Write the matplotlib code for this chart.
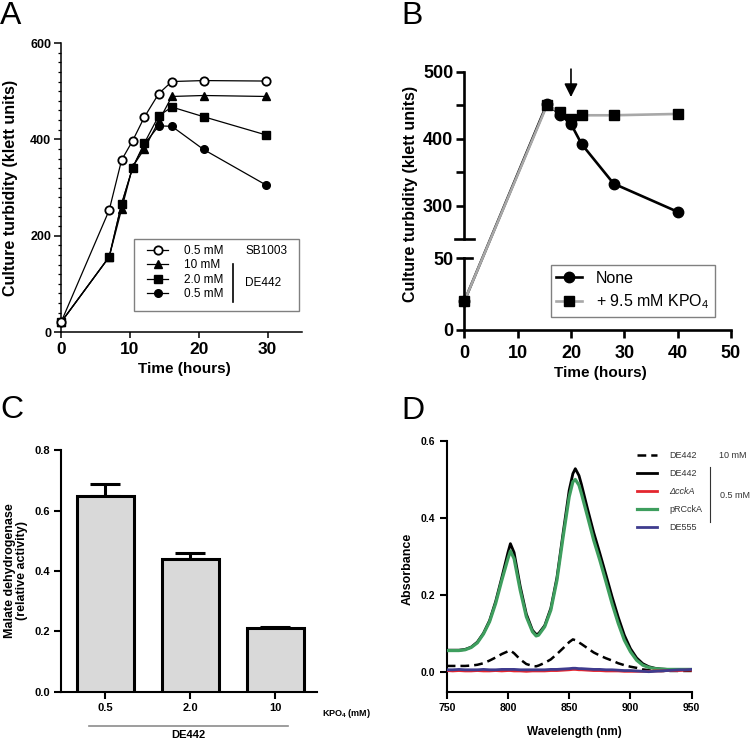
import matplotlib
matplotlib.use('Agg')
import matplotlib.pyplot as plt
from matplotlib.lines import Line2D
from matplotlib.patches import Rectangle
from matplotlib.ticker import MultipleLocator

plt.rcParams['font.family'] = ['Liberation Sans', 'DejaVu Sans']
plt.rcParams['mathtext.fontset'] = 'custom'
plt.rcParams['mathtext.rm'] = 'Liberation Sans'
plt.rcParams['mathtext.it'] = 'Liberation Sans:italic'
plt.rcParams['mathtext.bf'] = 'Liberation Sans:bold'

# ---- panel A : growth curves
a_time = [0, 7, 8.8, 10.4, 12.1, 14.2, 16.1, 20.7, 29.8]
a_sb1003 = [20, 253, 357, 397, 446, 495, 520, 522, 521]
a_10mM = [20, 156, 255, 343, 380, 438, 489, 491, 489]
a_2mM = [20, 156, 266, 341, 392, 449, 467, 447, 409]
a_05mM = [20, 156, 266, 341, 390, 428, 427, 379, 305]

# ---- panel B : KPO4 addition
b_time = [0, 15.5, 18, 20, 22, 28, 40]
b_none = [20, 452, 436, 422, 392, 333, 291]
b_kpo4 = [20, 450, 440, 430, 435, 435, 437]
b_arrow_t = 20

# ---- panel C : malate dehydrogenase
c_labels = ['0.5', '2.0', '10']
c_values = [0.649, 0.440, 0.211]
c_errors = [0.038, 0.021, 0.003]

# ---- panel D : absorbance spectra
d_wl = [750, 755, 760, 765, 770, 775, 780, 785, 790, 795, 800, 802, 805, 810, 815,
        820, 823, 825, 830, 835, 840, 845, 850, 853, 855, 858, 860, 865, 870, 875,
        880, 885, 890, 895, 900, 905, 910, 915, 920, 925, 930, 935, 940, 945, 950]
d_de442_10 = [0.015, 0.015, 0.015, 0.015, 0.016, 0.018, 0.022, 0.029, 0.037, 0.046,
              0.053, 0.055, 0.048, 0.032, 0.020, 0.015, 0.014, 0.016, 0.023, 0.032,
              0.046, 0.061, 0.077, 0.084, 0.082, 0.076, 0.072, 0.061, 0.050, 0.042,
              0.035, 0.029, 0.022, 0.017, 0.013, 0.010, 0.006, 0.004, 0.003, 0.002,
              0.002, 0.002, 0.002, 0.002, 0.002]
d_de442 = [0.056, 0.056, 0.056, 0.058, 0.064, 0.077, 0.100, 0.133, 0.183, 0.245,
           0.310, 0.333, 0.310, 0.222, 0.150, 0.108, 0.097, 0.099, 0.120, 0.165,
           0.245, 0.360, 0.472, 0.515, 0.528, 0.510, 0.487, 0.423, 0.362, 0.308,
           0.252, 0.195, 0.142, 0.095, 0.060, 0.036, 0.021, 0.013, 0.009, 0.007,
           0.006, 0.006, 0.006, 0.006, 0.006]
d_prcckA = [0.055, 0.055, 0.055, 0.057, 0.063, 0.075, 0.098, 0.130, 0.178, 0.238,
            0.294, 0.314, 0.294, 0.212, 0.143, 0.104, 0.093, 0.095, 0.117, 0.160,
            0.238, 0.350, 0.455, 0.494, 0.500, 0.485, 0.463, 0.403, 0.342, 0.290,
            0.234, 0.177, 0.126, 0.082, 0.052, 0.030, 0.017, 0.011, 0.008, 0.007,
            0.006, 0.006, 0.006, 0.006, 0.006]
d_dcckA = [0.003, 0.002, 0.003, 0.002, 0.002, 0.003, 0.002, 0.002, 0.003, 0.002,
           0.003, 0.003, 0.002, 0.002, 0.001, 0.002, 0.002, 0.002, 0.002, 0.003,
           0.003, 0.004, 0.005, 0.006, 0.006, 0.005, 0.005, 0.004, 0.003, 0.003,
           0.002, 0.002, 0.002, 0.001, 0.001, 0.001, 0.001, 0.001, 0.002, 0.002,
           0.003, 0.003, 0.003, 0.004, 0.004]
d_de555 = [0.005, 0.005, 0.006, 0.005, 0.005, 0.005, 0.006, 0.005, 0.005, 0.006,
           0.006, 0.006, 0.006, 0.005, 0.005, 0.005, 0.005, 0.005, 0.005, 0.006,
           0.006, 0.007, 0.008, 0.009, 0.009, 0.008, 0.008, 0.007, 0.006, 0.006,
           0.005, 0.005, 0.004, 0.003, 0.003, 0.002, 0.001, 0.000, 0.001, 0.002,
           0.003, 0.004, 0.005, 0.005, 0.006]

W, H = 750.0, 740.0
fig = plt.figure(figsize=(7.5, 7.4), dpi=100)


def px_axes(x0, x1, ytop, ybot):
    return fig.add_axes([x0 / W, 1 - ybot / H, (x1 - x0) / W, (ybot - ytop) / H])


def fx(x):
    return x / W


def fy(y):
    return 1 - y / H


def strip(ax, lw):
    for s in ['top', 'right']:
        ax.spines[s].set_visible(False)
    for s in ['left', 'bottom']:
        ax.spines[s].set_linewidth(lw)


# ================= A =================
axA = px_axes(61, 302, 43, 332)
strip(axA, 1.1)
axA.plot(a_time, a_sb1003, '-o', color='k', mfc='white', mec='k', mew=1.3, ms=6, lw=0.9, clip_on=False, zorder=5)
axA.plot(a_time, a_10mM, '-^', color='k', ms=6, lw=0.9, clip_on=False, zorder=4)
axA.plot(a_time, a_2mM, '-s', color='k', ms=5.5, lw=0.9, clip_on=False, zorder=4)
axA.plot(a_time, a_05mM, '-o', color='k', ms=5.5, lw=0.9, clip_on=False, zorder=4)
axA.set_xlim(0, 35)
axA.set_ylim(0, 600)
axA.set_xticks([0, 10, 20, 30])
axA.set_yticks([0, 200, 400, 600])
axA.yaxis.set_minor_locator(MultipleLocator(20))
axA.tick_params(axis='y', which='major', length=5, width=1.1, labelsize=9, pad=2)
axA.tick_params(axis='y', which='minor', length=2.5, width=0.9)
axA.tick_params(axis='x', which='major', length=4, width=1.1, labelsize=12.5, pad=3)
for t in axA.get_xticklabels() + axA.get_yticklabels():
    t.set_fontweight('bold')
axA.set_ylabel('Culture turbidity (klett units)', fontsize=11.5, fontweight='bold')
axA.yaxis.set_label_coords(-0.18, 0.5)
axA.set_xlabel('Time (hours)', fontsize=11, fontweight='bold')
axA.xaxis.set_label_coords(0.51, -0.105)

hA = [Line2D([], [], color='k', marker='o', mfc='white', mew=1.3, ms=6, lw=0.9),
      Line2D([], [], color='k', marker='^', ms=6, lw=0.9),
      Line2D([], [], color='k', marker='s', ms=5.5, lw=0.9),
      Line2D([], [], color='k', marker='o', ms=5.5, lw=0.9)]
legA = axA.legend(hA, ['0.5 mM', '10 mM', '2.0 mM', '0.5 mM'], loc='upper left',
                  bbox_to_anchor=(fx(147), fy(245)), bbox_transform=fig.transFigure,
                  frameon=False, fontsize=8.5, borderpad=0, borderaxespad=0,
                  labelspacing=0.2, handlelength=1.8, handletextpad=1.3)
fig.add_artist(Rectangle((fx(134), fy(311)), fx(165), 72 / H, transform=fig.transFigure,
                         fill=False, edgecolor='#808080', lw=1))
fig.text(fx(246), fy(251), 'SB1003', fontsize=8.5, va='center', ha='left')
fig.text(fx(245), fy(283), 'DE442', fontsize=8.5, va='center', ha='left')
fig.add_artist(Line2D([fx(232.7), fx(232.7)], [fy(264), fy(302)], color='k', lw=1.2, transform=fig.transFigure))

# ================= B (broken axis) =================
bx0, bx1 = 464.3, 731
axBt = px_axes(bx0, bx1, 71.7, 239.3)
axBb = px_axes(bx0, bx1, 258.3, 330)
grey = '#a8a8a8'
for ax in (axBt, axBb):
    ax.patch.set_visible(False)
    ax.spines['top'].set_visible(False)
    ax.spines['right'].set_visible(False)
    ax.spines['left'].set_linewidth(1.9)
    ax.spines['bottom'].set_linewidth(1.9)
    ax.set_xlim(0, 50)
# upper part: points after the first sample
axBt.plot(b_time[1:], b_none[1:], '-o', color='k', ms=7.5, lw=1.9, zorder=3)
axBt.plot(b_time[1:], b_kpo4[1:], '-s', color=grey, mfc='k', mec='k', ms=7, lw=1.9, zorder=4)
# lower part: the starting sample
axBb.plot(b_time[:1], b_none[:1], 'o', color='k', ms=7.5, zorder=3, clip_on=False)
axBb.plot(b_time[:1], b_kpo4[:1], 's', color='k', ms=7, zorder=4, clip_on=False)
axBt.spines['bottom'].set_visible(False)
axBt.set_ylim(250, 500)
axBt.set_xticks([])
axBt.set_yticks([300, 400, 500])
axBt.set_yticks([350, 450], minor=True)
axBt.tick_params(axis='y', which='both', length=6, width=1.9, labelsize=13, pad=2)
axBb.set_ylim(0, 50)
axBb.set_yticks([0, 50])
axBb.set_xticks([0, 10, 20, 30, 40, 50])
axBb.tick_params(axis='y', length=6, width=1.9, labelsize=13, pad=2)
axBb.tick_params(axis='x', length=6, width=1.9, labelsize=13, pad=5)
for t in axBt.get_yticklabels() + axBb.get_yticklabels() + axBb.get_xticklabels():
    t.set_fontweight('bold')
# break marks across the axis
axBt.plot([-0.035, 0.035], [250, 250], color='k', lw=1.9, transform=axBt.get_yaxis_transform(), clip_on=False)
axBb.plot([0, 0.03], [50, 50], color='k', lw=1.9, transform=axBb.get_yaxis_transform(), clip_on=False)
# first segment crosses the gap between the two parts
inv = fig.transFigure.inverted()
for vals, col, z in [(b_none, 'k', -2), (b_kpo4, grey, -1)]:
    p0 = inv.transform(axBb.transData.transform((b_time[0], vals[0])))
    p1 = inv.transform(axBt.transData.transform((b_time[1], vals[1])))
    fig.add_artist(Line2D([p0[0], p1[0]], [p0[1], p1[1]], color=col, lw=1.9,
                          transform=fig.transFigure, zorder=z))
axBt.annotate('', xy=(b_arrow_t, 458), xytext=(b_arrow_t, 508),
              arrowprops=dict(arrowstyle='-|>', color='k', lw=1.2, mutation_scale=20),
              annotation_clip=False)
fig.text(fx(410), fy(194), 'Culture turbidity (klett units)', rotation=90, fontsize=11.5,
         fontweight='bold', ha='center', va='center')
axBb.set_xlabel('Time (hours)', fontsize=11, fontweight='bold')
axBb.xaxis.set_label_coords(0.51, -0.5)
hB = [Line2D([], [], color='k', marker='o', ms=7.5, lw=1.9),
      Line2D([], [], color=grey, marker='s', mfc='k', mec='k', ms=7, lw=1.9)]
legB = axBb.legend(hB, ['None', '+ 9.5 mM KPO$_4$'], loc='upper left',
                   bbox_to_anchor=(fx(550.7), fy(265)), bbox_transform=fig.transFigure,
                   fontsize=11.5, fancybox=False, edgecolor='#808080', framealpha=1,
                   borderpad=0.35, borderaxespad=0, labelspacing=0.45,
                   handlelength=1.6, handletextpad=0.9)
legB.get_frame().set_linewidth(1)

# ================= C =================
axC = px_axes(61, 317, 450.3, 691.7)
strip(axC, 1.5)
cx = list(range(len(c_values)))
axC.errorbar(cx, c_values, yerr=[[0] * len(c_errors), c_errors], fmt='none', ecolor='k',
             elinewidth=2.2, capsize=10.8, capthick=2.2, zorder=2)
axC.bar(cx, c_values, width=0.67, color='#d9d9d9', edgecolor='k', linewidth=2.2, zorder=3)
axC.set_xlim(-0.52, 2.49)
axC.set_ylim(0, 0.8)
axC.set_yticks([0.0, 0.2, 0.4, 0.6, 0.8])
axC.set_yticklabels(['%.1f' % v for v in [0.0, 0.2, 0.4, 0.6, 0.8]])
axC.set_xticks(cx)
axC.set_xticklabels(c_labels)
axC.tick_params(axis='both', length=5, width=1.5, labelsize=8, pad=3)
for t in axC.get_xticklabels() + axC.get_yticklabels():
    t.set_fontweight('bold')
axC.set_ylabel('Malate dehydrogenase\n(relative activity)', fontsize=9, fontweight='bold',
               linespacing=1.0)
axC.yaxis.set_label_coords(-0.128, 0.5)
axC.text(1.02, -0.09, 'KPO$_\\mathbf{4}$ (mM)', transform=axC.transAxes, fontsize=6.5,
         fontweight='bold', ha='left', va='center')
axC.plot([-0.19, 2.15], [-0.142, -0.142], color='#8c8c8c', lw=1.2,
         transform=axC.get_xaxis_transform(), clip_on=False)
axC.text(0.98, -0.18, 'DE442', transform=axC.get_xaxis_transform(), fontsize=8,
         fontweight='bold', ha='center', va='center')

# ================= D =================
axD = px_axes(446.7, 691.7, 441, 691.7)
strip(axD, 1.5)
green = '#3e9e5e'
red = '#e4262f'
blue = '#3f3c8e'
lD1, = axD.plot(d_wl, d_de442_10, color='k', lw=1.8, ls=(0, (3.5, 2)), zorder=2)
lD2, = axD.plot(d_wl, d_de442, color='k', lw=2.0, zorder=3)
lD4, = axD.plot(d_wl, d_prcckA, color=green, lw=2.3, zorder=4)
lD3, = axD.plot(d_wl, d_dcckA, color=red, lw=2.0, zorder=5)
lD5, = axD.plot(d_wl, d_de555, color=blue, lw=2.0, zorder=6)
axD.set_xlim(750, 950)
axD.set_ylim(-0.052, 0.6)
axD.set_xticks([750, 800, 850, 900, 950])
axD.set_yticks([0.0, 0.2, 0.4, 0.6])
axD.set_yticklabels(['%.1f' % v for v in [0.0, 0.2, 0.4, 0.6]])
axD.tick_params(axis='both', length=5, width=1.5, labelsize=7.5, pad=3)
for t in axD.get_xticklabels() + axD.get_yticklabels():
    t.set_fontweight('bold')
axD.set_ylabel('Absorbance', fontsize=9, fontweight='bold')
axD.yaxis.set_label_coords(-0.135, 0.49)
axD.set_xlabel('Wavelength (nm)', fontsize=8.5, fontweight='bold')
axD.xaxis.set_label_coords(0.52, -0.135)
legD = axD.legend([lD1, lD2, lD3, lD4, lD5], ['DE442', 'DE442', '\u0394cckA', 'pRCckA', 'DE555'],
                  loc='upper left', bbox_to_anchor=(fx(637), fy(451)), bbox_transform=fig.transFigure,
                  frameon=False, fontsize=6.5, borderpad=0, borderaxespad=0,
                  labelspacing=1.0, handlelength=2.2, handletextpad=1.4)
for t in legD.get_texts():
    t.set_color('#333333')
legD.get_texts()[2].set_fontstyle('italic')
fig.text(fx(719), fy(456), '10 mM', fontsize=6.5, color='#333333', va='center', ha='left')
fig.text(fx(720), fy(496), '0.5 mM', fontsize=6.5, color='#333333', va='center', ha='left')
fig.add_artist(Line2D([fx(710), fx(710)], [fy(466.7), fy(521.7)], color='#333333', lw=0.8,
                      transform=fig.transFigure))

# panel letters
for lab, x, y in [('A', 0, 1), ('B', 401, 1), ('C', 0, 395), ('D', 401, 396)]:
    fig.text(fx(x), fy(y), lab, fontsize=23, va='top', ha='left')

fig.savefig('out.png', dpi=100)
